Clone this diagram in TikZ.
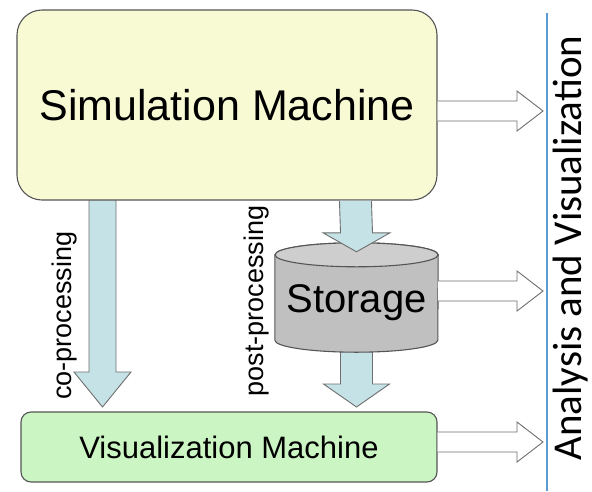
\documentclass[tikz,border=0pt]{standalone}
\usepackage{fontspec}
\setmainfont{Liberation Sans}
\newfontfamily\calibfont{Carlito}
\usetikzlibrary{calc}
\definecolor{simfill}{RGB}{248,250,212}
\definecolor{visfill}{RGB}{204,245,196}
\definecolor{stofill}{RGB}{192,192,192}
\definecolor{stotop}{RGB}{206,206,206}
\definecolor{flowfill}{RGB}{197,226,231}
\definecolor{edgegray}{RGB}{85,85,85}
\definecolor{arrowgray}{RGB}{110,110,110}
\definecolor{axisblue}{RGB}{91,155,213}
\begin{document}
\begin{tikzpicture}[x=1pt,y=-1pt,
  box/.style={draw=edgegray, line width=1.1pt, inner sep=0pt},
  flow/.style={draw=arrowgray, fill=flowfill, line width=0.9pt, line join=miter},
  hollow/.style={draw=arrowgray, fill=white, line width=0.9pt, line join=miter},
  lbl/.style={font=\fontsize{27}{30}\selectfont, rotate=90, inner sep=0pt}]
\useasboundingbox (0,0) rectangle (592,491);

% axis line
\coordinate (axTop) at (547,13);
\coordinate (axBot) at (547,491);
\draw[axisblue, line width=2.4pt] (axTop) -- (axBot);
\node[font=\calibfont\fontsize{41}{46}\selectfont, rotate=90, inner sep=0pt] (axlbl) at (571,248) {Analysis and Visualization};

% geometry nodes
\node[minimum width=163pt, minimum height=85pt, inner sep=0pt] (sto) at (356.5,297.5) {};

% co-processing arrow
\path (17,200) ++(85.5,0) coordinate (cpTop);
\path (21,412) ++(81.5,-5) coordinate (cpTip);
\draw[flow] ($(cpTop)+(-13.5,0)$) -- ($(cpTip)+(-13.5,-35)$) -- ($(cpTip)+(-28.5,-35)$) -- (cpTip)
  -- ($(cpTip)+(28.5,-35)$) -- ($(cpTip)+(13.5,-35)$) -- ($(cpTop)+(13.5,0)$);

% post-processing lower arrow
\path (sto.south) coordinate (pbTop);
\path (21,412) ++(335.5,-5) coordinate (pbTip);
\draw[flow] ($(pbTop)+(-16,0)$) -- ($(pbTip)+(-16,-23)$) -- ($(pbTip)+(-33,-23)$) -- (pbTip)
  -- ($(pbTip)+(33,-23)$) -- ($(pbTip)+(16,-23)$) -- ($(pbTop)+(16,0)$);

% boxes
\node[box, fill=simfill, rounded corners=25pt, minimum width=420pt, minimum height=190pt,
  font=\fontsize{43}{50}\selectfont] (sim) at (227,105) {Simulation Machine};
\node[box, fill=visfill, rounded corners=10pt, minimum width=416pt, minimum height=70pt,
  font=\fontsize{31}{36}\selectfont] (vis) at (229,447) {Visualization Machine};

% storage cylinder
\draw[edgegray, line width=1.1pt, fill=stofill] (sto.north west) -- (sto.south west)
  arc[start angle=180, end angle=360, x radius=81.5pt, y radius=12pt]
  -- (sto.north east)
  arc[start angle=0, end angle=180, x radius=81.5pt, y radius=12pt] -- cycle;
\draw[edgegray, line width=1.1pt, fill=stotop] (sto.north) ellipse[x radius=81.5pt, y radius=12pt];
\node[anchor=base, font=\fontsize{40}{46}\selectfont, inner sep=0pt] (stolbl) at ($(sto.center)+(0,15)$) {Storage};

% post-processing upper arrow
\path (sim.south west) ++(339,0) coordinate (ppTop);
\path (sto.north) ++(0,-3) coordinate (ppTip);
\draw[flow] ($(ppTop)+(-16,0)$) -- ($(ppTip)+(-16,-19)$) -- ($(ppTip)+(-33.5,-19)$) -- (ppTip)
  -- ($(ppTip)+(33.5,-19)$) -- ($(ppTip)+(16,-19)$) -- ($(ppTop)+(16,0)$);

% labels
\node[lbl] (colbl) at (65,315.5) {co-processing};
\node[lbl] (pplbl) at (257,301) {post-processing};

% hollow arrows to analysis
\path (sim.east) ++(0,6) coordinate (h1s);
\path (sto.east) ++(0,-6.5) coordinate (h2s);
\path (vis.east) ++(0,-5) coordinate (h3s);
\foreach \s in {h1s,h2s,h3s}{
  \path (\s -| axTop) ++(-4,0) coordinate (\s t);
  \draw[hollow] ($(\s)+(0,-10)$) -- ($(\s t)+(-26,-10)$) -- ($(\s t)+(-26,-20)$) -- (\s t)
    -- ($(\s t)+(-26,20)$) -- ($(\s t)+(-26,10)$) -- ($(\s)+(0,10)$);
}
\end{tikzpicture}
\end{document}
